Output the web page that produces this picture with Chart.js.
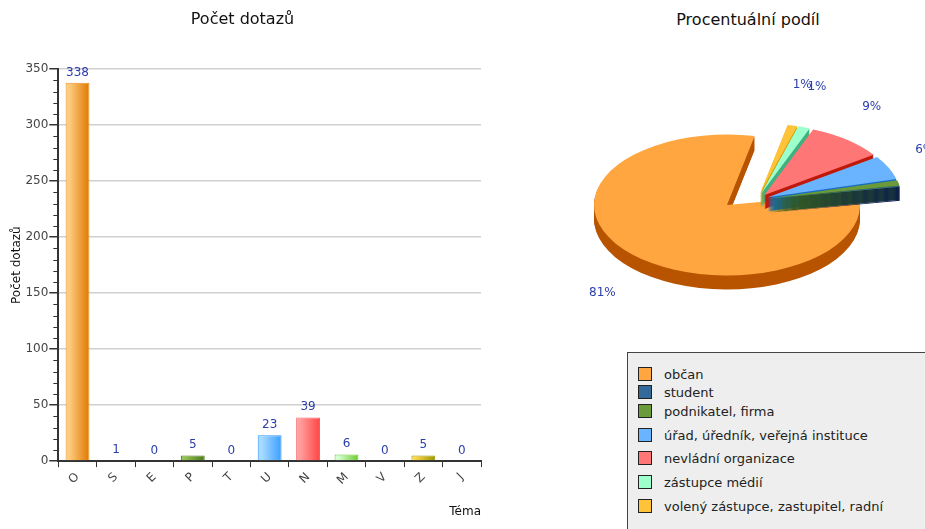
<!DOCTYPE html>
<html>
<head>
<meta charset="utf-8">
<script src="https://cdn.jsdelivr.net/npm/chart.js@4.4.1/dist/chart.umd.min.js"></script>
<style>
  body { margin: 0; background: #fff; width: 925px; height: 529px; overflow: hidden; position: relative; font-family: "DejaVu Sans", sans-serif; }
  #bar { position: absolute; left: 0; top: 0; }
  #pie { position: absolute; left: 560px; top: 40px; }
  #pieTitle { position: absolute; left: 560px; width: 376px; top: 10px; text-align: center; font-size: 16px; color: #111; }
  #legend { position: absolute; left: 627px; top: 352px; width: 320px; height: 200px; background: #eeeeee; border: 1px solid #444; }
  #legend .row { position: absolute; left: 10px; height: 18px; line-height: 18px; font-size: 13px; color: #222; white-space: nowrap; }
  #legend .sw { display: inline-block; width: 12px; height: 12px; border: 1px solid #222; vertical-align: -2px; margin-right: 12px; }
</style>
</head>
<body>
<canvas id="bar" width="490" height="529"></canvas>
<div id="pieTitle">Procentuální podíl</div>
<canvas id="pie" width="365" height="330"></canvas>
<div id="legend"></div>
<script>
// bar chart data
const categories = ["O", "S", "E", "P", "T", "U", "N", "M", "V", "Z", "J"];
const counts = [338, 1, 0, 5, 0, 23, 39, 6, 0, 5, 0];
// pie data
const groups = ["občan", "student", "podnikatel, firma", "úřad, úředník, veřejná instituce",
  "nevládní organizace", "zástupce médií", "volený zástupce, zastupitel, radní"];
const groupCounts = [338, 1, 5, 23, 39, 6, 5];

// colours
const barLight = ["#ffcc80", "#3f72a3", "#cccccc", "#92c454", "#cccccc", "#aadcff", "#ffa0a0", "#d4ffd4", "#cccccc", "#ffd84a", "#cccccc"];
const barDark = ["#e07800", "#17395f", "#999999", "#4a7a18", "#999999", "#3a9eff", "#ff4444", "#6ccc2c", "#999999", "#9c9400", "#999999"];
const barEdge = ["#e89020", "#17395f", "#999999", "#4a7a18", "#999999", "#3399ff", "#ff5a5a", "#66cc33", "#999999", "#999900", "#999999"];
const pieColors = ["#ffa640", "#336a99", "#6a9a3a", "#6ab4ff", "#ff7676", "#9cffcc", "#ffc33a"];
const sideColors = ["#b85400", "#0c1f4d", "#3d6b1a", "#1a6fc0", "#c01a0a", "#40b080", "#d09a00"];
const labelBlue = "#2b3eaa";

Chart.defaults.font.family = '"DejaVu Sans", sans-serif';

//horizontal gradient on each bar
function barFill(ctx) {
  const chart = ctx.chart, i = ctx.dataIndex;
  const xs = chart.scales.x;
  if (!chart.chartArea || !xs) return barDark[i];
  const cx = xs.getPixelForValue(i);
  const w = xs.width / categories.length * 0.62;
  const g = chart.ctx.createLinearGradient(cx - w / 2, 0, cx + w / 2, 0);
  g.addColorStop(0, barLight[i]);
  g.addColorStop(0.15, barLight[i]);
  g.addColorStop(1, barDark[i]);
  return g;
}

//numbers above the bars
const valueLabels = {
  id: "valueLabels",
  afterDatasetsDraw(chart) {
    const c = chart.ctx;
    const meta = chart.getDatasetMeta(0);
    c.save();
    c.font = '12px "DejaVu Sans", sans-serif';
    c.fillStyle = labelBlue;
    c.textAlign = "center";
    c.textBaseline = "alphabetic";
    meta.data.forEach((bar, i) => c.fillText(String(counts[i]), bar.x, bar.y - 7));
    c.restore();
  }
};

//minor ticks every 10 on the y axis
const minorTicks = {
  id: "minorTicks",
  afterDraw(chart) {
    const ys = chart.scales.y, c = chart.ctx;
    c.save();
    c.strokeStyle = "#333";
    c.lineWidth = 1;
    for (let v = 0; v <= ys.max; v += 10) {
      if (v % 50 === 0) continue;
      const py = Math.round(ys.getPixelForValue(v)) + 0.5;
      c.beginPath();
      c.moveTo(ys.right - 5, py);
      c.lineTo(ys.right, py);
      c.stroke();
    }
    c.restore();
  }
};

new Chart(document.getElementById("bar"), {
  type: "bar",
  data: {
    labels: categories,
    datasets: [{
      data: counts,
      backgroundColor: barFill,
      borderColor: barEdge,
      borderWidth: 1,
      barPercentage: 0.62,
      categoryPercentage: 1
    }]
  },
  options: {
    responsive: false,
    animation: false,
    layout: { padding: { left: 4, right: 9, top: 0, bottom: 6 } },
    plugins: {
      legend: { display: false },
      tooltip: { enabled: false },
      title: {
        display: true,
        text: "Počet dotazů",
        color: "#111",
        font: { size: 16, weight: "normal" },
        padding: { top: 10, bottom: 40 }
      }
    },
    scales: {
      x: {
        grid: { offset: true, drawOnChartArea: false, tickLength: 6, tickColor: "#333" },
        border: { color: "#333", width: 2 },
        ticks: { minRotation: 45, maxRotation: 45, color: "#444", font: { size: 12 } },
        title: { display: true, text: "Téma", align: "end", color: "#111", font: { size: 12 }, padding: { top: 14, bottom: 4 } }
      },
      y: {
        min: 0,
        max: 350,
        ticks: { stepSize: 50, color: "#444", font: { size: 12 }, padding: 1 },
        grid: { color: "#d0d0d0", lineWidth: 1.5, tickLength: 9, tickColor: "#333" },
        border: { color: "#333", width: 2 },
        title: { display: true, text: "Počet dotazů", color: "#111", font: { size: 12 }, padding: { top: 6, bottom: 0 } }
      }
    }
  },
  plugins: [valueLabels, minorTicks]
});

// 3D exploded pie
const K = 0.53;      // vertical squash
const DEPTH = 14;    // thickness
const total = groupCounts.reduce((a, b) => a + b, 0);

function pieArcs(chart) {
  return chart.getDatasetMeta(0).data.map((a, i) => {
    const p = a.getProps(["x", "y", "startAngle", "endAngle", "outerRadius"], true);
    const m = (p.startAngle + p.endAngle) / 2;
    let ex = 0, ey = 0;
    if (i > 0) {
      ex = 30 + 12 * (-Math.cos(m));
      ey = -5 + 12 * Math.sin(m) * K;
    }
    return { x: p.x, y: p.y, s: p.startAngle, e: p.endAngle, r: p.outerRadius, m, ex, ey, i };
  });
}

function drawSlice(c, a, d, color) {
  if (a.e - a.s <= 0) return;
  c.save();
  c.translate(a.x + a.ex, a.y + a.ey + d);
  c.scale(-1, K);
  c.beginPath();
  c.moveTo(0, 0);
  c.arc(0, 0, a.r, a.s, a.e);
  c.closePath();
  c.fillStyle = color;
  c.fill();
  c.restore();
}

const pie3d = {
  id: "pie3d",
  beforeDatasetsDraw(chart) {
    const c = chart.ctx;
    const arcs = pieArcs(chart);
    const order = [0, 6, 5, 4, 3, 2, 1];
    order.forEach(i => {
      const a = arcs[i];
      for (let d = DEPTH; d >= 1; d--) drawSlice(c, a, d, sideColors[i]);
      drawSlice(c, a, 0, pieColors[i]);
    });
    return false;
  },
  afterDraw(chart) {
    const c = chart.ctx;
    c.save();
    c.font = '12px "DejaVu Sans", sans-serif';
    c.fillStyle = labelBlue;
    c.textAlign = "center";
    c.textBaseline = "middle";
    pieArcs(chart).forEach(a => {
      const pct = Math.round(groupCounts[a.i] / total * 100);
      if (pct < 1) return;
      const dx = -Math.cos(a.m), dy = Math.sin(a.m);
      const lx = a.x + a.ex + dx * a.r * 1.3;
      const ly = a.y + a.ey + dy * a.r * K * 1.6 + (dy > 0 ? 10 : 0);
      c.fillText(pct + "%", lx, ly);
    });
    c.restore();
  }
};

new Chart(document.getElementById("pie"), {
  type: "pie",
  data: {
    labels: groups,
    datasets: [{ data: groupCounts, backgroundColor: pieColors, borderWidth: 0 }]
  },
  options: {
    responsive: false,
    animation: false,
    rotation: -12,
    layout: { padding: { left: 34, right: 65, top: 32, bottom: 32 } },
    plugins: { legend: { display: false }, tooltip: { enabled: false } }
  },
  plugins: [pie3d]
});

//legend box
const legendBox = document.getElementById("legend");
const rowTops = [13, 31, 50, 74, 97, 121, 145];
groups.forEach((g, i) => {
  const row = document.createElement("div");
  row.className = "row";
  row.style.top = rowTops[i] + "px";
  row.innerHTML = '<span class="sw" style="background:' + pieColors[i] + '"></span>' + g;
  legendBox.appendChild(row);
});
</script>
</body>
</html>
